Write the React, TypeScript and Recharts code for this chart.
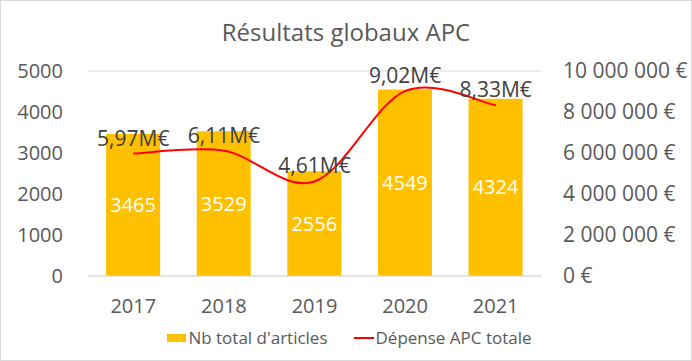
import React from 'react';
import { ComposedChart, Bar, Line, XAxis, YAxis, CartesianGrid, Legend, LabelList } from 'recharts';

const years = ['2017', '2018', '2019', '2020', '2021'];
const articles = [3465, 3529, 2556, 4549, 4324];
const spend = [5970000, 6110000, 4610000, 9020000, 8330000];
const leftTicks = [0, 1000, 2000, 3000, 4000, 5000];
const rightTicks = [0, 2000000, 4000000, 6000000, 8000000, 10000000];

const data = years.map((year, i) => ({ year, articles: articles[i], spend: spend[i] }));

const FONT = '"Open Sans", "Noto Sans", sans-serif';
const GREY = '#595959';

const euro = (v: number) => v.toString().replace(/\B(?=(\d{3})+(?!\d))/g, ' ') + ' €';
const millions = (v: number) => (v / 1e6).toFixed(2).replace('.', ',') + 'M€';

// Excel-style smoothed line (Catmull-Rom through the points)
function excelSmooth(context: any) {
  let pts: [number, number][] = [];
  return {
    areaStart() {},
    areaEnd() {},
    lineStart() {
      pts = [];
    },
    point(x: number, y: number) {
      pts.push([+x, +y]);
    },
    lineEnd() {
      if (!pts.length) return;
      context.moveTo(pts[0][0], pts[0][1]);
      for (let i = 0; i < pts.length - 1; i++) {
        const p0 = pts[i - 1] || pts[i];
        const p1 = pts[i];
        const p2 = pts[i + 1];
        const p3 = pts[i + 2] || p2;
        context.bezierCurveTo(
          p1[0] + (p2[0] - p0[0]) / 6,
          p1[1] + (p2[1] - p0[1]) / 6,
          p2[0] - (p3[0] - p1[0]) / 6,
          p2[1] - (p3[1] - p1[1]) / 6,
          p2[0],
          p2[1]
        );
      }
    },
  };
}

function LegendContent() {
  return (
    <div style={{ display: 'flex', justifyContent: 'center', alignItems: 'center', fontFamily: FONT, fontSize: 17, color: GREY, paddingLeft: 8 }}>
      <span style={{ display: 'inline-block', width: 19, height: 8, background: '#FFC000', marginRight: 2 }} />
      <span style={{ marginRight: 26 }}>Nb total d'articles</span>
      <span style={{ display: 'inline-block', width: 20, height: 2, background: '#FF0000', marginRight: 2 }} />
      <span>Dépense APC totale</span>
    </div>
  );
}

export default function App() {
  return (
    <div
      style={{
        position: 'absolute',
        left: 0,
        top: 0,
        width: 692,
        height: 361,
        border: '1px solid #d9d9d9',
        boxSizing: 'border-box',
        background: '#fff',
        fontFamily: FONT,
      }}
    >
      <div
        style={{
          position: 'absolute',
          top: 14,
          left: 0,
          width: 690,
          textAlign: 'center',
          fontSize: 24,
          color: GREY,
        }}
      >
        Résultats globaux APC
      </div>
      <ComposedChart
        width={690}
        height={359}
        data={data}
        margin={{ top: 70, right: 0, left: -1, bottom: 8 }}
        barCategoryGap="20%"
        style={{ position: 'absolute', top: 0, left: 0 }}
      >
        <CartesianGrid vertical={false} stroke="#d9d9d9" />
        <XAxis
          dataKey="year"
          axisLine={{ stroke: '#d9d9d9' }}
          tickLine={false}
          tick={{ fill: GREY, fontSize: 20, fontFamily: FONT }}
          tickMargin={17}
          height={50}
        />
        <YAxis
          yAxisId="left"
          domain={[0, 5000]}
          ticks={leftTicks}
          axisLine={false}
          tickLine={false}
          tick={{ fill: GREY, fontSize: 20, fontFamily: FONT }}
          tickMargin={19}
          width={88}
        />
        <YAxis
          yAxisId="right"
          orientation="right"
          domain={[0, 10000000]}
          ticks={rightTicks}
          tickFormatter={euro}
          axisLine={false}
          tickLine={false}
          tick={{ fill: GREY, fontSize: 21, fontFamily: FONT, textAnchor: 'start' }}
          tickMargin={16}
          width={150}
        />
        <Legend content={<LegendContent />} verticalAlign="bottom" height={26} />
        <Bar yAxisId="left" dataKey="articles" fill="#FFC000" isAnimationActive={false}>
          <LabelList dataKey="articles" position="center" fill="#ffffff" fontSize={20} fontFamily={FONT} />
        </Bar>
        <Line
          yAxisId="right"
          dataKey="spend"
          type={excelSmooth as any}
          stroke="#FF0000"
          strokeWidth={2}
          dot={false}
          isAnimationActive={false}
        >
          <LabelList dataKey="spend" position="top" offset={8} formatter={millions} fill="#404040" fontSize={21} fontFamily={FONT} />
        </Line>
      </ComposedChart>
    </div>
  );
}
